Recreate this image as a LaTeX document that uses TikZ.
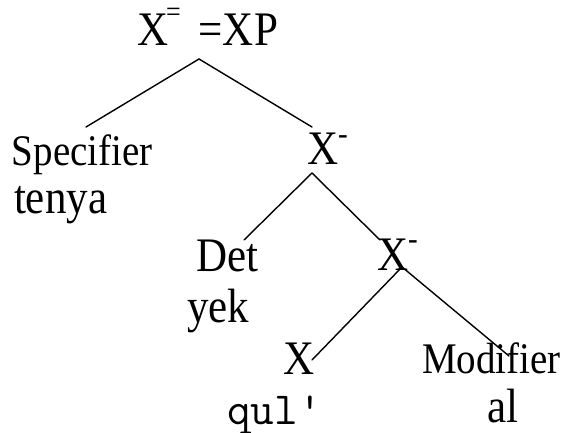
\documentclass[tikz,border=0pt]{standalone}
\usepackage{fontspec}
\setmainfont{Liberation Serif}
\newcommand{\vst}[1]{\scalebox{1}[1.12]{#1}}
\tikzset{
  lbl/.style={anchor=base west, inner sep=0pt, outer sep=0pt},
  big/.style={lbl, font=\fontsize{43}{48}\selectfont},
  mid/.style={lbl, font=\fontsize{39}{44}\selectfont},
  mono/.style={lbl, font=\fontsize{46}{48}\selectfont\ttfamily},
  branch/.style={line width=1.4pt, line cap=round}
}
\newcommand{\barsup}{\raisebox{18pt}{\fontsize{29}{29}\selectfont -}}
\newcommand{\dblsup}{\raisebox{22pt}{\fontsize{26}{26}\selectfont =}}
\begin{document}
\begin{tikzpicture}[x=1pt,y=-1pt]
\useasboundingbox (0,0) rectangle (568,433);
% labels
\node[big] (xp) at (137,46) {\vst{X\kern-2pt\dblsup\hspace{18pt}=XP}};
\node[mid] (spec) at (12,166) {\vst{Specifier}};
\node[big] (tenya) at (14,214) {\vst{tenya}};
\node[big] (xbar1) at (307,165) {\vst{X\barsup}};
\node[big] (det) at (196,271) {\vst{Det}};
\node[big] (yek) at (187,322) {\vst{yek}};
\node[big] (xbar2) at (377,270) {\vst{X\barsup}};
\node[big] (x) at (283,374) {\vst{X}};
\node[mid] (mod) at (422,373) {\vst{Modifier}};
\node[mono] (gul) at (227,424) {qul'};
\node[big] (al) at (487,422) {\vst{al}};
% branch points
\coordinate (a1) at (199,59);
\coordinate (s1) at (86,127);
\coordinate (x1t) at (312,127);
\coordinate (a2) at (312,173);
\coordinate (dt) at (244,240);
\coordinate (x2t) at (380,240);
\coordinate (a3) at (402,267);
\coordinate (xt) at (312,360);
\coordinate (mt) at (509,356);
% branches
\draw[branch] (s1) -- (a1) -- (x1t);
\draw[branch] (dt) -- (a2) -- (x2t);
\draw[branch] (xt) -- (a3) -- (mt);
\end{tikzpicture}
\end{document}
